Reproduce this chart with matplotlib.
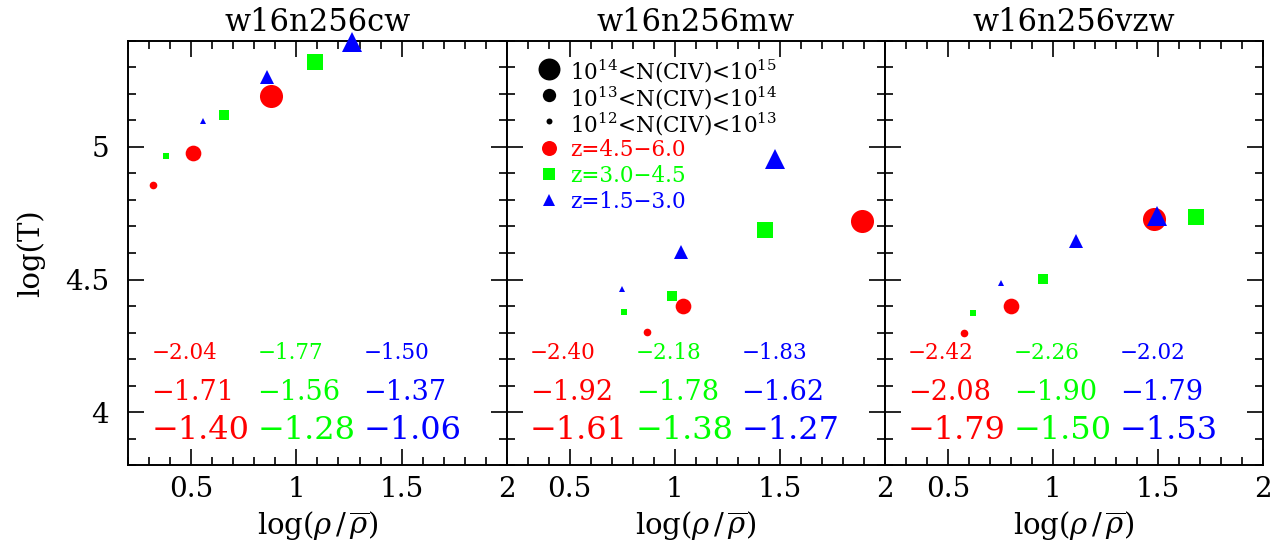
import matplotlib
matplotlib.use("Agg")
import matplotlib.pyplot as plt
from matplotlib.ticker import MultipleLocator, FuncFormatter

plt.rcParams['font.family'] = ['DejaVu Serif']
plt.rcParams['mathtext.fontset'] = 'dejavuserif'

# ---------------- data ----------------
panel_titles = ['w16n256cw', 'w16n256mw', 'w16n256vzw']
z_labels = ['z=4.5\u22126.0', 'z=3.0\u22124.5', 'z=1.5\u22123.0']
n_labels = [r'10$^{14}$<N(CIV)<10$^{15}$',
            r'10$^{13}$<N(CIV)<10$^{14}$',
            r'10$^{12}$<N(CIV)<10$^{13}$']

# order of points in each list: N(CIV) bins 10^12-13, 10^13-14, 10^14-15
cw_red_x = [0.316, 0.507, 0.879]
cw_red_y = [4.855, 4.977, 5.193]
cw_green_x = [0.378, 0.653, 1.087]
cw_green_y = [4.966, 5.122, 5.320]
cw_blue_x = [0.553, 0.861, 1.263]
cw_blue_y = [5.097, 5.263, 5.395]

mw_red_x = [0.867, 1.041, 1.892]
mw_red_y = [4.303, 4.399, 4.720]
mw_green_x = [0.760, 0.987, 1.432]
mw_green_y = [4.377, 4.437, 4.686]
mw_blue_x = [0.748, 1.032, 1.476]
mw_blue_y = [4.464, 4.604, 4.956]

vzw_red_x = [0.575, 0.802, 1.483]
vzw_red_y = [4.299, 4.400, 4.728]
vzw_green_x = [0.621, 0.951, 1.683]
vzw_green_y = [4.373, 4.502, 4.734]
vzw_blue_x = [0.754, 1.110, 1.497]
vzw_blue_y = [4.487, 4.647, 4.740]

# slope numbers: rows (small, medium, large font) x columns (red, green, blue)
cw_numbers = [[-2.04, -1.77, -1.50], [-1.71, -1.56, -1.37], [-1.40, -1.28, -1.06]]
mw_numbers = [[-2.40, -2.18, -1.83], [-1.92, -1.78, -1.62], [-1.61, -1.38, -1.27]]
vzw_numbers = [[-2.42, -2.26, -2.02], [-2.08, -1.90, -1.79], [-1.79, -1.50, -1.53]]

# ---------------- style ----------------
colors = ['#ff0000', '#00ff00', '#0000ff']
markers = ['o', 's', '^']
marker_sizes = {'o': [5.5, 11.3, 16.6], 's': [4.3, 7.9, 12.0], '^': [4.8, 9.9, 13.7]}
num_fontsizes = [15.5, 19.5, 23]
num_rows_y = [4.20, 4.045, 3.897]
num_cols_x = [0.31, 0.815, 1.318]

panel_data = [
    [(cw_red_x, cw_red_y), (cw_green_x, cw_green_y), (cw_blue_x, cw_blue_y)],
    [(mw_red_x, mw_red_y), (mw_green_x, mw_green_y), (mw_blue_x, mw_blue_y)],
    [(vzw_red_x, vzw_red_y), (vzw_green_x, vzw_green_y), (vzw_blue_x, vzw_blue_y)],
]
panel_numbers = [cw_numbers, mw_numbers, vzw_numbers]

fig = plt.figure(figsize=(12.81, 5.5), dpi=100)
gs = fig.add_gridspec(1, 3, left=0.1002, right=0.986, bottom=0.1545, top=0.9255, wspace=0)
axes = [fig.add_subplot(gs[0, i]) for i in range(3)]

fmt = FuncFormatter(lambda v, p: '%g' % v)

for k, ax in enumerate(axes):
    ax.set_xlim(0.2, 2.0)
    ax.set_ylim(3.8, 5.4)
    for ci, (xs, ys) in enumerate(panel_data[k]):
        mk = markers[ci]
        for xi, yi, ms in zip(xs, ys, marker_sizes[mk]):
            ax.plot([xi], [yi], linestyle='none', marker=mk, markersize=ms,
                    color=colors[ci], markeredgewidth=0, clip_on=False, zorder=3)
    # numbers
    for ri, row in enumerate(panel_numbers[k]):
        for ci, val in enumerate(row):
            ax.text(num_cols_x[ci], num_rows_y[ri], ('%.2f' % val).replace('-', '\u2212'),
                    color=colors[ci], fontsize=num_fontsizes[ri], ha='left', va='baseline')
    ax.set_title(panel_titles[k], fontsize=22, pad=7)
    ax.xaxis.set_major_locator(MultipleLocator(0.5))
    ax.xaxis.set_minor_locator(MultipleLocator(0.1))
    ax.yaxis.set_major_locator(MultipleLocator(0.5))
    ax.yaxis.set_minor_locator(MultipleLocator(0.1))
    ax.xaxis.set_major_formatter(fmt)
    ax.yaxis.set_major_formatter(fmt)
    ax.tick_params(which='both', direction='in', top=True, right=True, width=1.2, labelsize=20)
    ax.tick_params(which='major', length=11.5)
    ax.tick_params(axis='x', which='major', pad=8)
    ax.tick_params(axis='y', which='major', pad=14)
    ax.tick_params(which='minor', length=5.8)
    for sp in ax.spines.values():
        sp.set_linewidth(1.4)
    ax.set_xlabel(r'log($\rho\,/\,\overline{\rho}$)', fontsize=21, labelpad=5)
    if k > 0:
        ax.tick_params(labelleft=False)

axes[0].set_ylabel('log(T)', fontsize=21, labelpad=14)

# legend in middle panel
ax = axes[1]
leg_y0 = 0.934
leg_dy = 0.0618
leg_entries = [('o', 15.8, 'black', n_labels[0], 'black'),
               ('o', 9.6, 'black', n_labels[1], 'black'),
               ('o', 4.3, 'black', n_labels[2], 'black'),
               ('o', 10.8, colors[0], z_labels[0], colors[0]),
               ('s', 8.6, colors[1], z_labels[1], colors[1]),
               ('^', 8.6, colors[2], z_labels[2], colors[2])]
for i, (mk, ms, mc, lab, tc) in enumerate(leg_entries):
    yy = leg_y0 - i * leg_dy
    ax.plot([0.111], [yy], transform=ax.transAxes, marker=mk, markersize=ms,
            color=mc, markeredgewidth=0, linestyle='none', zorder=4)
    ax.text(0.168, yy, lab, transform=ax.transAxes, fontsize=15.5, color=tc,
            ha='left', va='center_baseline')

fig.savefig('out.png', dpi=100)
